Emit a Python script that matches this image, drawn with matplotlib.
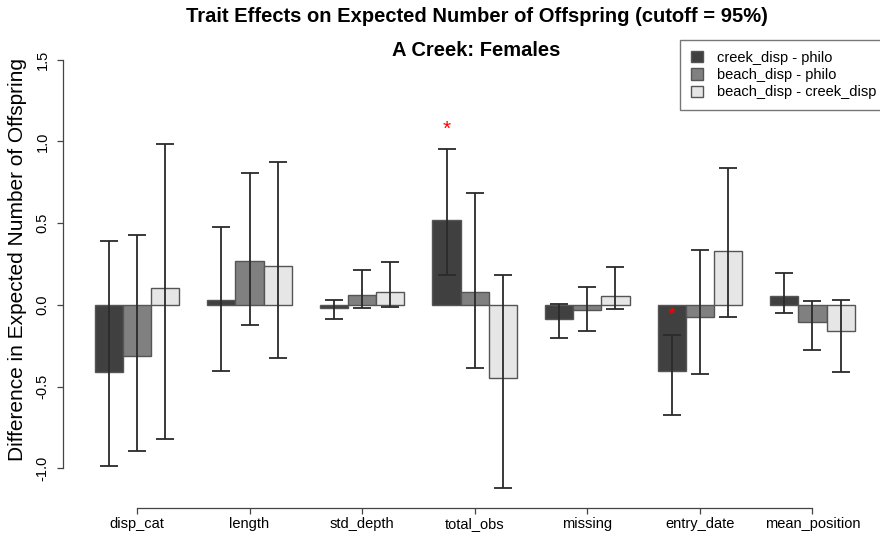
import numpy as np
import matplotlib.pyplot as plt
from matplotlib.patches import Patch

plt.rcParams['font.family'] = ['Liberation Sans', 'DejaVu Sans']

traits = ["disp_cat", "length", "std_depth", "total_obs", "missing", "entry_date", "mean_position"]
contrasts = ["creek_disp - philo", "beach_disp - philo", "beach_disp - creek_disp"]
fills = ["#404040", "#808080", "#e6e6e6"]

# estimated difference, lower and upper interval per contrast (rows) and trait (cols)
est = np.array([
    [-0.41, 0.033, -0.018, 0.522, -0.086, -0.405, 0.053],
    [-0.31, 0.270, 0.060, 0.077, -0.029, -0.076, -0.104],
    [0.103, 0.237, 0.080, -0.445, 0.053, 0.328, -0.159],
])
lower = np.array([
    [-0.985, -0.405, -0.085, 0.185, -0.202, -0.671, -0.049],
    [-0.895, -0.120, -0.017, -0.386, -0.157, -0.420, -0.278],
    [-0.820, -0.323, -0.013, -1.122, -0.025, -0.072, -0.412],
])
upper = np.array([
    [0.389, 0.480, 0.030, 0.952, 0.008, -0.184, 0.196],
    [0.430, 0.810, 0.215, 0.685, 0.108, 0.336, 0.022],
    [0.985, 0.875, 0.265, 0.181, 0.234, 0.835, 0.030],
])

fig = plt.figure(figsize=(8.8, 5.37), dpi=100)
W, H = 880, 537
ax = fig.add_axes([63 / W, (H - 507.7) / H, (880 - 63) / W, (507.7 - 40) / H])

# barplot layout: bars of width 1, one empty slot between groups
centers = 2.5 + 4 * np.arange(len(traits))
for j in range(3):
    x = centers - 1 + j
    ax.bar(x, est[j], width=1.0, color=fills[j], edgecolor="#555555", linewidth=1.0, zorder=2)
    ax.errorbar(x, est[j], yerr=[est[j] - lower[j], upper[j] - est[j]], fmt="none",
                ecolor="#2a2a2a", elinewidth=1.3, capsize=6.8, capthick=1.3, zorder=3)
    # mark intervals that exclude zero
    sig = (lower[j] > 0) | (upper[j] < 0)
    for xi, hi in zip(x[sig], upper[j][sig]):
        ax.text(xi, hi + 0.12, "*", color="red", fontsize=15, ha="center", va="center", zorder=4)

ax.set_xlim(1 - (94.7 - 63) / 28.15, 28 + (880 - 854.7) / 28.15)
ax.set_ylim(-1.24, (305 - 40) / 163.5)

for s in ["top", "right"]:
    ax.spines[s].set_visible(False)
ax.spines["left"].set_bounds(-1.0, 1.5)
ax.spines["bottom"].set_bounds(centers[0], centers[-1])
for s in ["left", "bottom"]:
    ax.spines[s].set_color("#444444")
    ax.spines[s].set_linewidth(0.9)

ax.set_xticks(centers)
ax.set_xticklabels(traits, fontsize=10.5)
ax.set_yticks(np.arange(-1.0, 1.51, 0.5))
ax.set_yticklabels([f"{v:.1f}" for v in np.arange(-1.0, 1.51, 0.5)], rotation=90,
                   va="center", fontsize=10.5)
ax.tick_params(length=4.5, width=0.9, color="#444444")
ax.tick_params(axis="x", pad=2.5)
ax.tick_params(axis="y", pad=5)

fig.text(18 / W, 1 - 260 / H, "Difference in Expected Number of Offspring",
         rotation=90, ha="center", va="center", fontsize=15)
fig.text(477 / W, 1 - 17 / H, "Trait Effects on Expected Number of Offspring (cutoff = 95%)",
         ha="center", va="center", fontsize=14.5, fontweight="bold")
fig.text(476 / W, 1 - 50 / H, "A Creek: Females", ha="center", va="center",
         fontsize=14.5, fontweight="bold")

handles = [Patch(facecolor=c, edgecolor="#555555") for c in fills]
fig.legend(handles, contrasts, loc="upper left", bbox_to_anchor=(680 / W, 1 - 40 / H),
           fontsize=10.5, frameon=True, fancybox=False, edgecolor="#555555",
           handlelength=0.8, handleheight=0.8, labelspacing=0.22, borderpad=0.75,
           handletextpad=1.0, borderaxespad=0)

fig.savefig("out.png", dpi=100)
